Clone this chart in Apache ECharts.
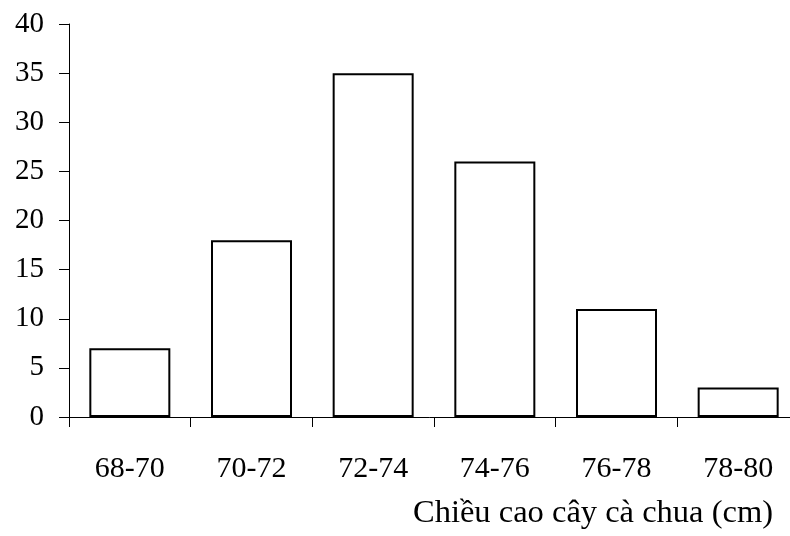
<!DOCTYPE html>
<html>
<head>
<meta charset="utf-8">
<style>html,body{margin:0;padding:0;background:#fff}#c{width:790px;height:536px}</style>
<script src="https://cdn.jsdelivr.net/npm/echarts@6/dist/echarts.min.js"></script>
</head>
<body>
<div id="c"></div>
<script>
const categories = ['68-70', '70-72', '72-74', '74-76', '76-78', '78-80'];
const counts = [7, 18, 35, 26, 11, 3];
const xTitle = 'Chiều cao cây cà chua (cm)';
const FONT = '"Liberation Serif", "Times New Roman", serif';

const chart = echarts.init(document.getElementById('c'));
chart.setOption({
  animation: false,
  backgroundColor: '#fff',
  title: {
    text: xTitle,
    right: 17,
    top: 497,
    padding: 0,
    textStyle: { fontFamily: FONT, fontSize: 32.5, fontWeight: 'normal', color: '#000' }
  },
  grid: { left: 69, width: 730, top: 24, height: 393, containLabel: false, outerBoundsMode: 'none' },
  xAxis: {
    type: 'category',
    data: categories,
    boundaryGap: true,
    axisLine: { lineStyle: { color: '#000', width: 1 } },
    axisTick: { show: true, length: 10, inside: false, alignWithLabel: false, lineStyle: { color: '#000' } },
    axisLabel: { margin: 37, fontFamily: FONT, fontSize: 30, color: '#000' },
    splitLine: { show: false }
  },
  yAxis: {
    type: 'value',
    min: 0,
    max: 40,
    interval: 5,
    axisLine: { show: true, lineStyle: { color: '#000', width: 1 } },
    axisTick: { show: true, length: 10, lineStyle: { color: '#000' } },
    axisLabel: { margin: 25, fontFamily: FONT, fontSize: 29, color: '#000' },
    splitLine: { show: false }
  },
  series: [{
    type: 'bar',
    data: counts,
    barWidth: 81,
    itemStyle: { color: '#fff', borderColor: '#000', borderWidth: 2 }
  }]
});
</script>
</body>
</html>
